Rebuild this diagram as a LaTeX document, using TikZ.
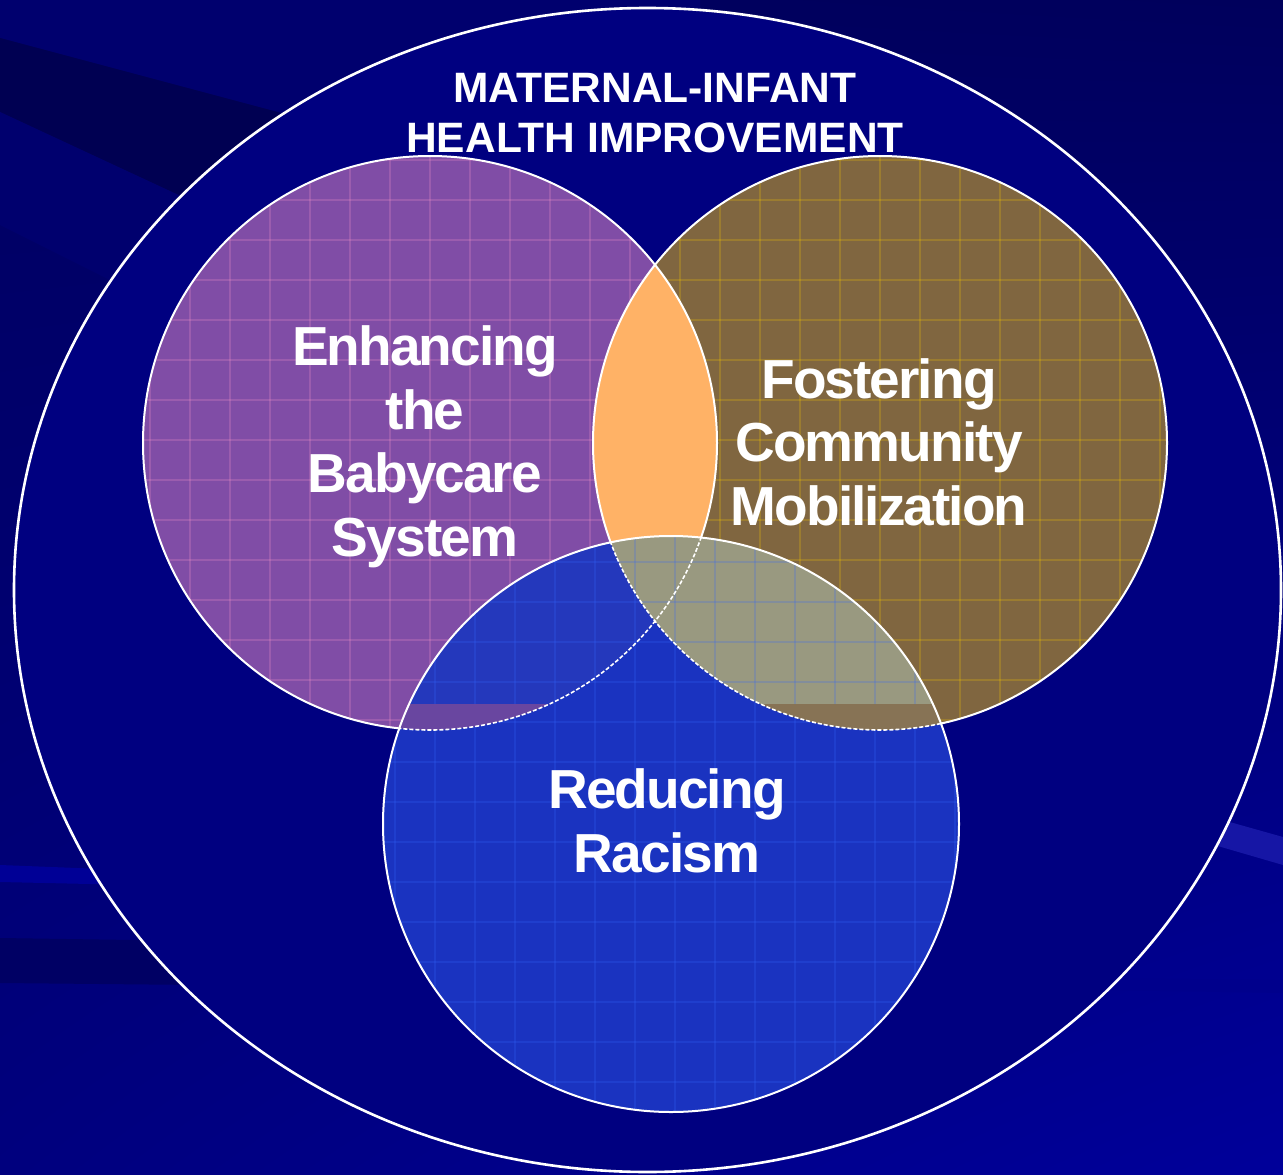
\documentclass[tikz,border=0pt]{standalone}
\usepackage{fontspec}
\usetikzlibrary{shadings}
\setmainfont{Liberation Sans}
\newfontfamily\condfont[LetterSpace=-3.5]{Liberation Sans}
\definecolor{navyin}{RGB}{0,0,128}
\definecolor{pinkfill}{RGB}{128,77,166}
\definecolor{goldfill}{RGB}{128,102,64}
\definecolor{bluefill}{RGB}{26,51,192}
\definecolor{pgfill}{RGB}{255,178,102}
\definecolor{gbfill}{RGB}{153,153,128}
\definecolor{pbfill}{RGB}{36,56,188}
\definecolor{pinkhi}{RGB}{255,153,204}
\definecolor{goldhi}{RGB}{255,204,0}
\definecolor{bluehi}{RGB}{51,102,255}
\definecolor{pstrip}{RGB}{105,70,160}
\definecolor{gstrip}{RGB}{135,115,85}
\definecolor{bgA}{RGB}{0,0,96}
\definecolor{bgB}{RGB}{0,0,92}
\definecolor{bgC}{RGB}{0,0,126}
\definecolor{bgD}{RGB}{0,0,154}
\tikzset{
  ring/.style={draw=white, line width=2pt},
  outerring/.style={draw=white, line width=2.6pt},
  innerdash/.style={draw=white, line width=1.6pt, dash pattern=on 4pt off 2pt},
  gridline/.style={line width=1.2pt, opacity=0.22},
  titletext/.style={text=white, font=\fontsize{42.5}{50}\selectfont\bfseries, align=center, inner sep=0pt, anchor=base},
  bigtext/.style={text=white, font=\condfont\fontsize{55}{63.5}\selectfont\bfseries, align=center, inner sep=0pt, anchor=base}
}
\begin{document}
\begin{tikzpicture}[x=1pt,y=-1pt]
\useasboundingbox (0,0) rectangle (1283,1175);
% background
\shade[upper left=bgA, upper right=bgB, lower left=bgC, lower right=bgD] (0,0) rectangle (1283,1175);
\fill[color={rgb,255:red,0;green,0;blue,110}] (60,0) -- (700,0) -- (700,200) -- (300,118) -- (0,38) -- (0,0) -- cycle;
\fill[color={rgb,255:red,0;green,0;blue,82}] (0,38) -- (300,118) -- (200,205) -- (0,112) -- cycle;
\fill[color={rgb,255:red,0;green,0;blue,110}] (0,112) -- (200,205) -- (150,300) -- (0,225) -- cycle;
\fill[color={rgb,255:red,0;green,0;blue,150}] (0,865) -- (180,872) -- (180,886) -- (0,882) -- cycle;
\fill[color={rgb,255:red,0;green,0;blue,100}] (0,938) -- (200,941) -- (200,985) -- (0,983) -- cycle;
\fill[color={rgb,255:red,22;green,22;blue,165}] (1180,808) -- (1283,837) -- (1283,865) -- (1180,835) -- cycle;
\fill[color={rgb,255:red,0;green,0;blue,140}] (1100,978) -- (1283,980) -- (1283,993) -- (1100,990) -- cycle;

\coordinate (E) at (647.5,590);
\coordinate (P) at (430,443);
\coordinate (G) at (880,443);
\coordinate (B) at (671,824);

% outer ellipse
\fill[navyin] (E) ellipse[x radius=633.5pt, y radius=582pt];

% pink circle
\fill[pinkfill] (P) circle[radius=287pt];
\begin{scope}
  \clip (P) circle[radius=287pt];
  \foreach \gx in {150,190,...,720} \draw[gridline, pinkhi] (\gx,150) -- (\gx,735);
  \foreach \gy in {160,200,...,730} \draw[gridline, pinkhi] (140,\gy) -- (720,\gy);
\end{scope}
% gold circle
\fill[goldfill] (G) circle[radius=287pt];
\begin{scope}
  \clip (G) circle[radius=287pt];
  \foreach \gx in {600,640,...,1170} \draw[gridline, goldhi] (\gx,150) -- (\gx,735);
  \foreach \gy in {160,200,...,730} \draw[gridline, goldhi] (590,\gy) -- (1170,\gy);
\end{scope}
% pink-gold lens
\begin{scope}
  \clip (P) circle[radius=287pt];
  \fill[pgfill] (G) circle[radius=287pt];
\end{scope}
\draw[ring] (P) circle[radius=287pt];
\draw[ring] (G) circle[radius=287pt];

% blue circle
\fill[bluefill] (B) circle[radius=288pt];
\begin{scope}
  \clip (B) circle[radius=288pt];
  \fill[pbfill] (P) circle[radius=287pt];
  \fill[gbfill] (G) circle[radius=287pt];
  \foreach \gx in {395,435,...,960} \draw[gridline, bluehi] (\gx,530) -- (\gx,1115);
  \foreach \gy in {562,602,...,1110} \draw[gridline, bluehi] (380,\gy) -- (960,\gy);
  \begin{scope}
    \clip (380,704) rectangle (960,731);
    \fill[pstrip] (P) circle[radius=287pt];
    \fill[gstrip] (G) circle[radius=287pt];
  \end{scope}
  \draw[innerdash] (P) circle[radius=287pt];
  \draw[innerdash] (G) circle[radius=287pt];
\end{scope}
\draw[ring] (B) circle[radius=288pt];

\draw[outerring] (E) ellipse[x radius=633.5pt, y radius=582pt];

% texts (anchor=base is the baseline of the last line)
\node[titletext] (title) at (655,152) {MATERNAL-INFANT\\HEALTH IMPROVEMENT};
\node[bigtext] (babycare) at (425,556) {Enhancing\\the\\Babycare\\System};
\node[bigtext] (community) at (879,525) {Fostering\\Community\\Mobilization};
\node[bigtext] (racism) at (667,872) {Reducing\\Racism};
\end{tikzpicture}
\end{document}
